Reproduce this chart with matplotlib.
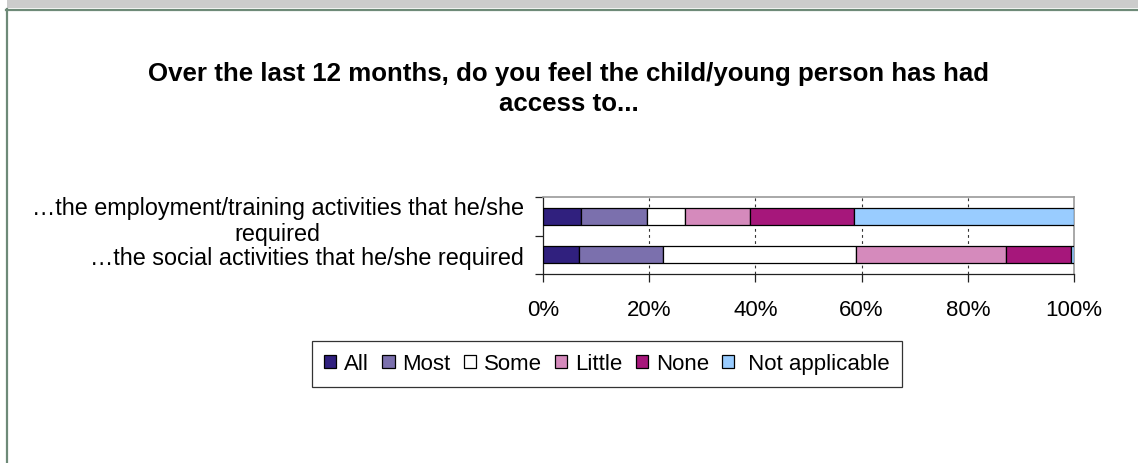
import matplotlib
matplotlib.use("Agg")
import matplotlib.pyplot as plt
from matplotlib.patches import Rectangle
from matplotlib.lines import Line2D
from matplotlib.ticker import FixedLocator, PercentFormatter

plt.rcParams['font.family'] = ['Liberation Sans', 'DejaVu Sans']

title = ("Over the last 12 months, do you feel the child/young person has had\n"
         "access to...")
categories = ["…the social activities that he/she required",
              "…the employment/training activities that he/she\nrequired"]
responses = ["All", "Most", "Some", "Little", "None", " Not applicable"]
colors = ["#30207e", "#7b70ad", "#ffffff", "#d58abc", "#a6177b", "#99ccff"]

# Percentage of respondents per answer, in the order of `responses`
social = [6.8, 15.8, 36.3, 28.3, 12.2, 0.6]
employment = [7.2, 12.4, 7.2, 12.1, 19.7, 41.4]
values = [social, employment]

W, H = 1138, 464
fig = plt.figure(figsize=(W / 100, H / 100), dpi=100)
fig.patch.set_facecolor("white")

# Window-like frame: grey strip on top, green border
fig.patches.append(Rectangle((7 / W, 1 - 8.5 / H), 1, 8.5 / H, transform=fig.transFigure,
                             facecolor="#cccccc", edgecolor="none", zorder=0))
fig.lines.append(Line2D([6 / W, 1], [1 - 11 / H, 1 - 11 / H], transform=fig.transFigure,
                        color="#6e8a78", linewidth=1.6))
fig.lines.append(Line2D([7 / W, 7 / W], [0, 1 - 10 / H], transform=fig.transFigure,
                        color="#6e8a78", linewidth=1.6))

ax = fig.add_axes([543 / W, 1 - 275 / H, 531 / W, 77 / H])

bar_h = 0.44
for yi, row in enumerate(values):
    left = 0.0
    for v, c, lab in zip(row, colors, responses):
        ax.barh(yi, v, left=left, height=bar_h, color=c, edgecolor="black",
                linewidth=0.9, label=lab if yi == 0 else None, zorder=3)
        left += v

ax.set_xlim(0, 100)
ax.set_ylim(-0.5, 1.5)
ax.xaxis.set_major_locator(FixedLocator([0, 20, 40, 60, 80, 100]))
ax.xaxis.set_major_formatter(PercentFormatter(decimals=0))
for x in [20, 40, 60, 80]:
    ax.axvline(x, color="#333333", linewidth=0.8, linestyle=(0, (2.5, 3)), zorder=1)

ax.yaxis.set_major_locator(FixedLocator([-0.5, 0.5, 1.5]))
ax.yaxis.set_major_formatter(plt.NullFormatter())
ax.yaxis.set_minor_locator(FixedLocator([0, 1]))
ax.set_yticklabels(categories, minor=True, multialignment="center")
ax.tick_params(axis="y", which="major", length=6, width=0.9, color="#222222")
ax.tick_params(axis="y", which="minor", length=0, pad=14, labelsize=16.8)
ax.tick_params(axis="x", which="major", length=6, width=0.9, color="#222222",
               labelsize=16, pad=12)

for side in ("left", "bottom"):
    ax.spines[side].set_color("#222222")
    ax.spines[side].set_linewidth(0.9)
for side in ("top", "right"):
    ax.spines[side].set_color("#999999")
    ax.spines[side].set_linewidth(1.2)

fig.text(0.4995, 1 - 89 / H, title, ha="center", va="center", fontsize=18.6,
         fontweight="bold", linespacing=1.35)

handles, labels = ax.get_legend_handles_labels()
leg = fig.legend(handles, labels, loc="center", bbox_to_anchor=(607 / W, 1 - 365 / H),
                 ncol=6, fontsize=16, frameon=True, fancybox=False, shadow=False,
                 handlelength=0.55, handleheight=0.55, handletextpad=0.35,
                 columnspacing=0.6, borderpad=0.55, borderaxespad=0)
leg.get_frame().set_edgecolor("black")
leg.get_frame().set_linewidth(0.9)

fig.savefig("out.png", dpi=100)
